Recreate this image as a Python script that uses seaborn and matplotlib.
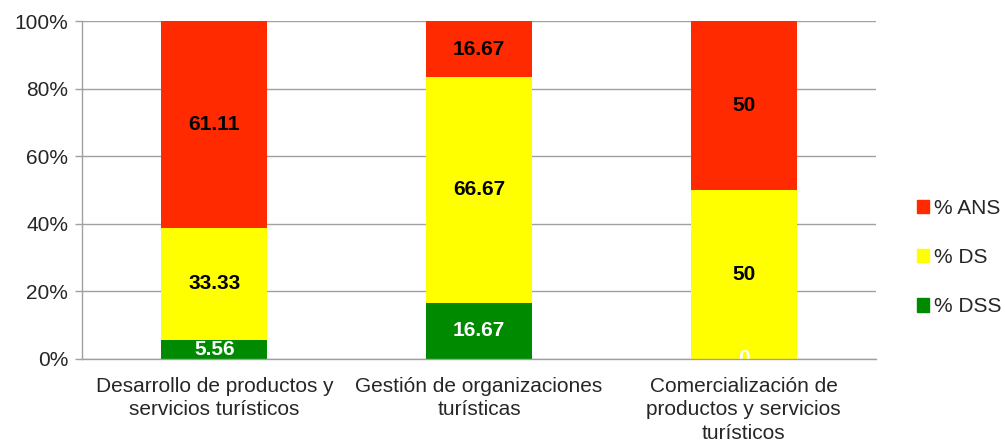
import matplotlib
matplotlib.use('Agg')
import matplotlib.pyplot as plt
import matplotlib.patches as mpatches
import seaborn as sns
import numpy as np

categories = ['Desarrollo de productos y\nservicios turísticos',
              'Gestión de organizaciones\nturísticas',
              'Comercialización de\nproductos y servicios\nturísticos']
dss = [5.56, 16.67, 0]
ds = [33.33, 66.67, 50]
ans = [61.11, 16.67, 50]
series_names = ['% DSS', '% DS', '% ANS']
colors = ['#008A00', '#FFFF00', '#FF2A00']
label_colors = ['white', 'black', 'black']

sns.set_style('white')
plt.rcParams['font.family'] = ['Liberation Sans', 'DejaVu Sans']

fig = plt.figure(figsize=(10.05, 4.47), dpi=100)
ax = fig.add_axes([0.0816, 0.197, 0.79, 0.756])

bottom = np.zeros(3)
for name, vals, col, lcol in zip(series_names, [dss, ds, ans], colors, label_colors):
    vals = np.array(vals, dtype=float)
    sns.barplot(x=categories, y=vals, bottom=bottom, color=col, width=0.4,
                ax=ax, saturation=1, linewidth=0, zorder=3)
    for i, v in enumerate(vals):
        txt = f'{v:g}'
        ax.text(i, bottom[i] + v / 2, txt, ha='center', va='center',
                fontsize=15, fontweight='bold', color=lcol, zorder=5,
                clip_on=True)
    bottom += vals

ax.set_ylim(0, 100)
ax.set_xlim(-0.5, 2.5)
ax.set_yticks(range(0, 101, 20))
ax.set_yticklabels([f'{t}%' for t in range(0, 101, 20)], fontsize=15)
ax.tick_params(axis='x', labelsize=15, length=0, pad=13)
ax.tick_params(axis='y', length=5, width=1, color='#A0A0A0', left=True, pad=5)
for lbl in ax.get_xticklabels():
    lbl.set_linespacing(1.3)
ax.yaxis.grid(True, color='#A0A0A0', linewidth=1, zorder=0)
ax.set_axisbelow(True)
for s in ['top', 'right']:
    ax.spines[s].set_visible(False)
for s in ['left', 'bottom']:
    ax.spines[s].set_color('#A0A0A0')
    ax.spines[s].set_linewidth(1)
    ax.spines[s].set_zorder(6)

handles = [mpatches.Patch(color=c, label=n) for n, c in zip(series_names, colors)][::-1]
ax.legend(handles=handles, loc='center left', bbox_to_anchor=(1.028, 0.30),
          frameon=False, fontsize=15, handlelength=0.6, handleheight=0.6,
          handletextpad=0.2, labelspacing=1.45)

fig.savefig('out.png', dpi=100)
